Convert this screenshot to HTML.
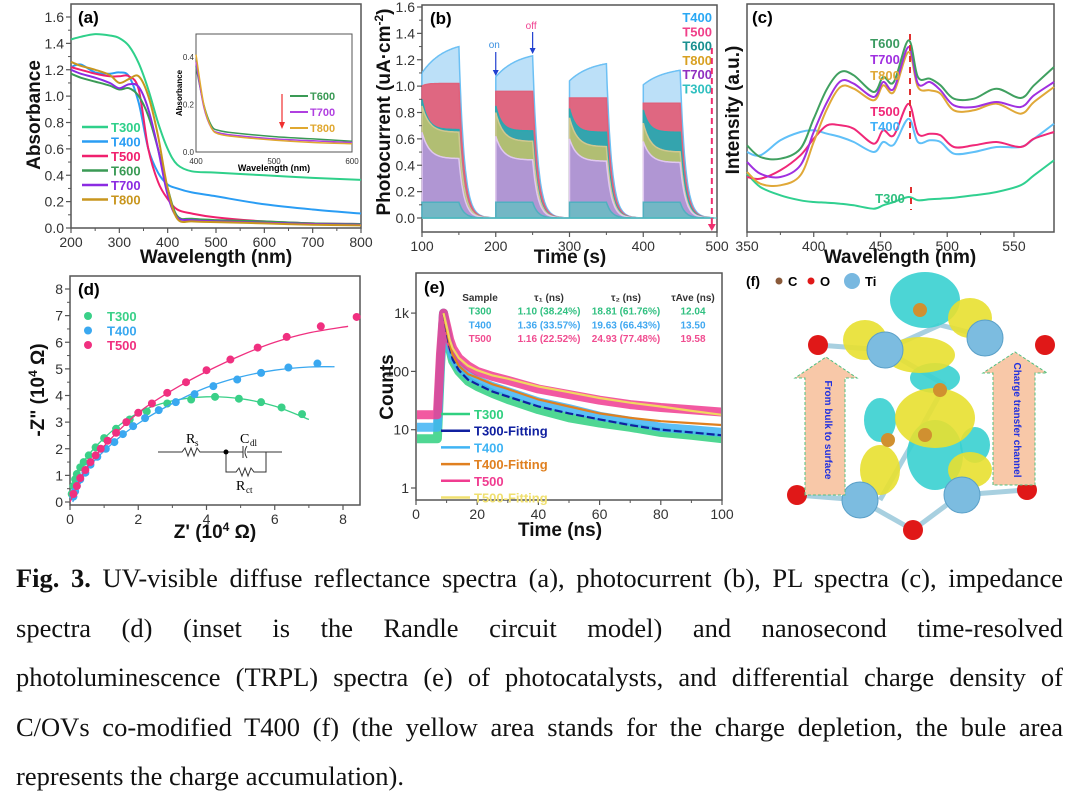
<!DOCTYPE html>
<html><head><meta charset="utf-8">
<style>
html,body{margin:0;padding:0;background:#fff;}
body{width:1080px;height:806px;overflow:hidden;position:relative;font-family:"Liberation Sans",Arial,sans-serif;}
#fig{position:absolute;left:0;top:0;}
#caption{position:absolute;left:16px;top:554px;width:1047px;font-family:"Liberation Serif","Times New Roman",serif;font-size:26.5px;line-height:49.5px;color:#111;}
#caption div{text-align:justify;text-align-last:justify;white-space:nowrap;height:49.5px;}
#caption div.last{text-align-last:left;}
</style></head>
<body>
<svg id="fig" width="1080" height="550" xmlns="http://www.w3.org/2000/svg" font-family="Liberation Sans, Arial, sans-serif"></svg>
<div id="caption">
<div><b>Fig. 3.</b> UV-visible diffuse reflectance spectra (a), photocurrent (b), PL spectra (c), impedance</div>
<div>spectra (d) (inset is the Randle circuit model) and nanosecond time-resolved</div>
<div>photoluminescence (TRPL) spectra (e) of photocatalysts, and differential charge density of</div>
<div>C/OVs co-modified T400 (f) (the yellow area stands for the charge depletion, the bule area</div>
<div class="last">represents the charge accumulation).</div>
</div>
<script>
// ---------- data (a)
const aWave=[200,220,250,280,300,320,340,360,380,400,420,450,500,600,700,800];
const aT300=[1.43,1.45,1.47,1.46,1.44,1.38,1.25,1.05,0.80,0.60,0.48,0.43,0.42,0.40,0.38,0.365];
const aT400=[1.22,1.24,1.18,1.17,1.18,1.15,0.95,0.60,0.42,0.33,0.30,0.27,0.24,0.18,0.14,0.11];
const aT500=[1.22,1.20,1.17,1.15,1.15,1.15,1.05,0.60,0.35,0.22,0.14,0.11,0.08,0.05,0.035,0.03];
const aT600=[1.17,1.14,1.11,1.08,1.05,1.06,1.00,0.85,0.60,0.30,0.09,0.07,0.06,0.05,0.035,0.03];
const aT700=[1.20,1.17,1.14,1.10,1.06,1.09,1.07,0.90,0.60,0.25,0.08,0.06,0.05,0.04,0.03,0.025];
const aT800=[1.26,1.23,1.20,1.16,1.10,1.13,1.15,1.00,0.70,0.30,0.07,0.05,0.045,0.035,0.025,0.02];
const aXTicks=[200,300,400,500,600,700,800];
const aYTicks=[0,0.2,0.4,0.6,0.8,1.0,1.2,1.4,1.6];
const insWave=[400,410,420,430,450,500,550,600];
const insT600=[0.36,0.20,0.11,0.09,0.08,0.065,0.055,0.045];
const insT700=[0.38,0.19,0.10,0.08,0.07,0.055,0.047,0.040];
const insT800=[0.41,0.20,0.10,0.075,0.065,0.05,0.04,0.035];
// ---------- data (b)
const bOn=[100,200,300,400];
const bOff=[150,250,350,450];
const bT400s=[1.10,1.07,1.04,1.01], bT400e=[1.30,1.23,1.17,1.12];
const bT500s=[1.00,0.96,0.91,0.87], bT500e=[1.02,0.96,0.91,0.87];
const bT600s=[0.90,0.85,0.83,0.82], bT600e=[0.67,0.66,0.65,0.65];
const bT800s=[0.85,0.80,0.76,0.72], bT800e=[0.65,0.58,0.54,0.50];
const bT700s=[0.65,0.62,0.60,0.58], bT700e=[0.45,0.44,0.43,0.42];
const bT300s=[0.12,0.12,0.12,0.12], bT300e=[0.12,0.12,0.12,0.12];
const bXTicks=[100,200,300,400,500];
const bYTicks=[0,0.2,0.4,0.6,0.8,1.0,1.2,1.4,1.6];
// ---------- data (c)
const cWave=[350,360,375,390,400,410,420,430,445,452,460,471,478,487,495,505,520,537,555,565,580];
const cT600=[260,225,220,250,340,430,480,470,420,465,450,575,465,460,440,400,400,430,402,440,495];
const cT700=[210,175,165,200,300,390,452,445,405,450,430,555,445,450,425,380,375,390,375,410,450];
const cT800=[180,145,140,170,270,370,435,430,395,440,420,540,435,425,415,365,365,385,355,390,435];
const cT500=[165,160,185,230,280,320,320,310,265,305,290,385,295,295,290,255,260,270,255,280,300];
const cT400=[240,230,275,300,305,295,285,270,240,270,262,340,270,275,270,235,240,255,255,280,325];
const cT300=[175,135,110,95,90,88,85,80,70,80,90,105,95,98,100,103,110,120,140,170,215];
const cXTicks=[350,400,450,500,550];
// ---------- data (d)
const dT300x=[0.05,0.1,0.15,0.2,0.3,0.4,0.55,0.75,1.0,1.35,1.75,2.25,2.85,3.55,4.25,4.95,5.6,6.2,6.8];
const dT300y=[0.3,0.6,0.85,1.05,1.3,1.5,1.75,2.05,2.4,2.75,3.1,3.4,3.7,3.85,3.95,3.88,3.75,3.55,3.3];
const dT400x=[0.1,0.15,0.2,0.3,0.45,0.6,0.8,1.05,1.3,1.55,1.85,2.2,2.6,3.1,3.65,4.2,4.9,5.6,6.4,7.25];
const dT400y=[0.2,0.4,0.6,0.85,1.1,1.4,1.7,2.0,2.25,2.55,2.85,3.15,3.45,3.75,4.05,4.35,4.6,4.85,5.05,5.2];
const dT500x=[0.1,0.2,0.3,0.45,0.6,0.75,0.9,1.1,1.35,1.65,2.0,2.4,2.85,3.4,4.0,4.7,5.5,6.35,7.35,8.4];
const dT500y=[0.3,0.6,0.9,1.2,1.5,1.75,2.0,2.3,2.6,3.0,3.35,3.7,4.1,4.5,4.95,5.35,5.8,6.2,6.6,6.95];
const dFit300x=[0,0.3,1,2,3,4,5,6,7], dFit300y=[0,1.3,2.4,3.35,3.8,3.95,3.88,3.6,3.1];
const dFit400x=[0.08,0.5,1.2,2,3,4,5,6,7,7.75], dFit400y=[0,1.2,2.15,2.95,3.7,4.3,4.7,4.95,5.07,5.08];
const dFit500x=[0,0.4,1,2,3,4,5,6,7,8.15], dFit500y=[0,1.1,2.1,3.35,4.2,4.9,5.5,6.0,6.35,6.6];
const dXTicks=[0,2,4,6,8];
const dYTicks=[0,1,2,3,4,5,6,7,8];
// ---------- data (e)
const eT=[0,7,8,9,10,11,12,14,17,20,25,30,40,50,60,70,80,90,100];
const eT500=[18,18,200,1000,600,350,250,170,125,100,82,70,50,40,32,27,24,22,20];
const eT400=[11,11,150,1000,500,280,180,120,85,70,55,45,30,23,17,14,11,10,9];
const eT300=[7,7,120,1000,450,240,150,100,68,55,42,33,22,16,13,11,9,8,7];
const eFitT=[9,10,11,12,14,17,20,25,30,40,50,60,70,80,90,100];
const eFit500=[1000,600,350,250,170,125,105,85,75,55,44,35,29,25,21,18];
const eFit400=[1000,520,290,190,125,90,78,60,50,33,25,19,16,14,13,12];
const eFit300=[1000,470,250,160,105,72,60,45,37,25,19,15,12,10,9,8];
const eXTicks=[0,20,40,60,80,100];
const eYTicks=[1,10,100,1000], eYLabels=['1','10','100','1k'];

const NS='http://www.w3.org/2000/svg';
const svg=document.getElementById('fig');
function mk(tag,attrs,parent,name,inter){const e=document.createElementNS(NS,tag);for(const k in attrs)e.setAttribute(k,attrs[k]);(parent||svg).appendChild(e);


return e;}
function txt(x,y,s,attrs,name,parent){const t=mk('text',Object.assign({x:x,y:y},attrs||{}),parent,name||'label');t.textContent=s;return t;}
function lin(d0,d1,r0,r1){return v=>r0+(v-d0)*(r1-r0)/(d1-d0);}
function pathFrom(xs,ys,X,Y,smooth){const P=xs.map((x,i)=>[X(x),Y(ys[i])]);if(!smooth)return 'M'+P.map(p=>p[0].toFixed(1)+','+p[1].toFixed(1)).join('L');
let d='M'+P[0][0]+','+P[0][1];for(let i=0;i<P.length-1;i++){const p0=P[i-1]||P[i],p1=P[i],p2=P[i+1],p3=P[i+2]||p2;
d+='C'+(p1[0]+(p2[0]-p0[0])/6).toFixed(1)+','+(p1[1]+(p2[1]-p0[1])/6).toFixed(1)+' '+(p2[0]-(p3[0]-p1[0])/6).toFixed(1)+','+(p2[1]-(p3[1]-p1[1])/6).toFixed(1)+' '+p2[0].toFixed(1)+','+p2[1].toFixed(1);}return d;}
function frame(x0,y0,x1,y1,name){mk('rect',{x:x0,y:y0,width:x1-x0,height:y1-y0,fill:'none',stroke:'#555','stroke-width':1.5},null,name);}
function xTicks(ticks,X,y,labels,name,minor){ticks.forEach((t,i)=>{mk('line',{x1:X(t),x2:X(t),y1:y,y2:y+5,stroke:'#555','stroke-width':1.2},null,'x-tick');txt(X(t),y+19,labels?labels[i]:String(t),{'font-size':14,'text-anchor':'middle',fill:'#333'},name);
if(minor&&i<ticks.length-1){const m=(t+ticks[i+1])/2;mk('line',{x1:X(m),x2:X(m),y1:y,y2:y+3,stroke:'#555'},null,'x-minor-tick');}});}
function yTicks(ticks,Y,x,labels,name,fmt){ticks.forEach((t,i)=>{mk('line',{x1:x-5,x2:x,y1:Y(t),y2:Y(t),stroke:'#555','stroke-width':1.2},null,'y-tick');txt(x-7,Y(t)+5,labels?labels[i]:(fmt?t.toFixed(fmt):String(t)),{'font-size':14,'text-anchor':'end',fill:'#333'},name);
if(i<ticks.length-1){const m=(t+ticks[i+1])/2;mk('line',{x1:x-3,x2:x,y1:Y(m),y2:Y(m),stroke:'#555'},null,'y-minor-tick');}});}
function title(x,y,s,rot,name){const a={'font-size':19,'font-weight':'bold','text-anchor':'middle',fill:'#111'};if(rot)a.transform='rotate(-90 '+x+' '+y+')';return txt(x,y,s,a,name);}
const defs=mk('defs',{},null,'defs');
function clip(id,x0,y0,x1,y1){const c=mk('clipPath',{id:id},defs,'clip');mk('rect',{x:x0,y:y0,width:x1-x0,height:y1-y0},c,'clip-rect');return mk('g',{'clip-path':'url(#'+id+')'},null,'plot-area');}

// ================= (a)
(function(){const X=lin(200,800,71,361),Y=lin(0,1.6,228,17);
frame(71,4,361,228,'panel-a-frame');
const S=[['T300',aT300,'#2fd08a'],['T400',aT400,'#2a9df4'],['T500',aT500,'#f0206e'],['T600',aT600,'#3a9a55'],['T700',aT700,'#8b2be2'],['T800',aT800,'#c8961e']];
S.forEach(s=>mk('path',{d:pathFrom(aWave,s[1],X,Y,true),fill:'none',stroke:s[2],'stroke-width':2},null,'line-'+s[0].toLowerCase()));
xTicks(aXTicks,X,228,null,'x-tick-label',true);yTicks(aYTicks,Y,71,null,'y-tick-label',1);
title(216,263,'Wavelength (nm)',false,'x-axis-title-a');title(40,115,'Absorbance',true,'y-axis-title-a');
txt(78,23,'(a)',{'font-size':17,'font-weight':'bold'},'panel-label-a');
S.forEach((s,i)=>{const y=127+i*14.5;mk('line',{x1:82,x2:108,y1:y,y2:y,stroke:s[2],'stroke-width':2.5},null,'legend-swatch');txt(111,y+5,s[0],{'font-size':13,'font-weight':'bold',fill:s[2]},'legend-entry');});
const IX=lin(400,600,196,352),IY=lin(0,0.4,152,57);
mk('rect',{x:196,y:34,width:156,height:118,fill:'#fff',stroke:'#555'},null,'inset-frame');
[['T600',insT600,'#3a9a55'],['T700',insT700,'#b040e0'],['T800',insT800,'#e0a830']].forEach((s,i)=>{mk('path',{d:pathFrom(insWave,s[1],IX,IY,true),fill:'none',stroke:s[2],'stroke-width':1.5},null,'inset-line-'+s[0].toLowerCase());
const y=96+i*16;mk('line',{x1:290,x2:308,y1:y,y2:y,stroke:s[2],'stroke-width':2},null,'inset-legend-swatch');txt(310,y+4,s[0],{'font-size':11,'font-weight':'bold',fill:s[2]},'inset-legend-entry');});
[400,500,600].forEach(t=>txt(IX(t),164,String(t),{'font-size':8,'text-anchor':'middle',fill:'#333'},'inset-x-tick-label'));
[0,0.2,0.4].forEach(t=>txt(194,IY(t)+3,t.toFixed(1),{'font-size':8,'text-anchor':'end',fill:'#333'},'inset-y-tick-label'));
txt(274,171,'Wavelength (nm)',{'font-size':9,'font-weight':'bold','text-anchor':'middle'},'inset-x-title');
txt(182,93,'Absorbance',{'font-size':8,'font-weight':'bold','text-anchor':'middle',transform:'rotate(-90 182 93)'},'inset-y-title');
mk('line',{x1:282,x2:282,y1:94,y2:124,stroke:'#f03030','stroke-width':1.2},null,'inset-arrow');
mk('path',{d:'M279,122L285,122L282,129Z',fill:'#f03030'},null,'inset-arrowhead');
})();

// ================= (b)
(function(){const X=lin(100,500,422,717),Y=lin(0,1.6,218,7);
frame(422,5,717,232,'panel-b-frame');
function area(st,en,k,rising){let pts=[[100,0]];for(let c=0;c<4;c++){const on=bOn[c],off=bOff[c];pts.push([on,0]);
for(let t=on;t<=off;t+=1){const dt=t-on;let v;if(rising){v=st[c]+(en[c]-st[c])*(1-Math.exp(-dt/k))/(1-Math.exp(-50/k));}else v=en[c]+(st[c]-en[c])*Math.exp(-dt/k);pts.push([t,v]);}
const next=c<3?bOn[c+1]:495;for(let t=off;t<=next;t+=1){pts.push([t,en[c]*Math.exp(-(t-off)/7)]);}pts.push([next,0]);}
return 'M'+pts.map(p=>X(p[0]).toFixed(1)+','+Y(p[1]).toFixed(1)).join('L')+'Z';}
const S=[['T400',bT400s,bT400e,30,true,'#b8def8','#6cc0f4'],['T500',bT500s,bT500e,6,false,'#e0607a','#e0607a'],['T600',bT600s,bT600e,8,false,'#2aa8b0','#2aa8b0'],['T800',bT800s,bT800e,10,false,'#b8c070','#d0c890'],['T700',bT700s,bT700e,10,false,'#b094d8','#e0c8f0'],['T300',bT300s,bT300e,5,false,'#70b8c4','#50b0c0']];
S.forEach(s=>mk('path',{d:area(s[1],s[2],s[3],s[4]),fill:s[5],stroke:s[6],'stroke-width':1.5,'fill-opacity':0.95},null,'area-'+s[0].toLowerCase()));
mk('line',{x1:422,x2:717,y1:Y(0),y2:Y(0),stroke:'#40c0c0','stroke-width':1},null,'baseline');
xTicks(bXTicks,X,232,null,'x-tick-label',true);yTicks(bYTicks,Y,422,null,'y-tick-label',1);
title(570,263,'Time (s)',false,'x-axis-title-b');
const yt=title(390,112,'Photocurrent (uA·cm',true,'y-axis-title-b');const ts=document.createElementNS(NS,'tspan');ts.setAttribute('baseline-shift','super');ts.setAttribute('font-size','12');ts.textContent='-2';yt.appendChild(ts);const ts2=document.createElementNS(NS,'tspan');ts2.textContent=')';yt.appendChild(ts2);
txt(430,24,'(b)',{'font-size':17,'font-weight':'bold'},'panel-label-b');
const L=[['T400','#2aa8f4'],['T500','#f0408a'],['T600','#1a9090'],['T800','#d8a020'],['T700','#9030c0'],['T300','#30c0c0']];
L.forEach((l,i)=>txt(712,22+i*14.3,l[0],{'font-size':13,'font-weight':'bold','text-anchor':'end',fill:l[1]},'legend-entry'));
txt(X(198),48,'on',{'font-size':10,fill:'#3a90e0','text-anchor':'middle'},'on-label');
mk('line',{x1:X(200),x2:X(200),y1:52,y2:72,stroke:'#2040d0','stroke-width':1.2},null,'on-arrow');mk('path',{d:`M${X(200)-3},70L${X(200)+3},70L${X(200)},76Z`,fill:'#2040d0'},null,'on-arrowhead');
txt(X(248),29,'off',{'font-size':10,fill:'#f04090','text-anchor':'middle'},'off-label');
mk('line',{x1:X(250),x2:X(250),y1:32,y2:50,stroke:'#2040d0','stroke-width':1.2},null,'off-arrow');mk('path',{d:`M${X(250)-3},48L${X(250)+3},48L${X(250)},54Z`,fill:'#2040d0'},null,'off-arrowhead');
mk('line',{x1:X(493),x2:X(493),y1:48,y2:226,stroke:'#f03070','stroke-width':2,'stroke-dasharray':'6,4'},null,'trend-arrow');
mk('path',{d:`M${X(493)-4},224L${X(493)+4},224L${X(493)},231Z`,fill:'#f03070'},null,'trend-arrowhead');
})();

// ================= (c)
(function(){const X=lin(350,580,747,1054),Y=lin(0,690,232,2);
frame(747,4,1054,232,'panel-c-frame');
const S=[['T300',cT300,'#30d090'],['T400',cT400,'#60c0f8'],['T500',cT500,'#f02878'],['T800',cT800,'#e0a838'],['T700',cT700,'#a030e0'],['T600',cT600,'#40a060']];
S.forEach(s=>mk('path',{d:pathFrom(cWave,s[1],X,Y,true),fill:'none',stroke:s[2],'stroke-width':2},null,'line-'+s[0].toLowerCase()));
xTicks(cXTicks,X,232,null,'x-tick-label',true);
title(900,263,'Wavelength (nm)',false,'x-axis-title-c');title(739,110,'Intensity (a.u.)',true,'y-axis-title-c');
txt(752,23,'(c)',{'font-size':17,'font-weight':'bold'},'panel-label-c');
[['T600',48,'#3a9a60'],['T700',64,'#a030e0'],['T800',80,'#e0a838'],['T500',116,'#f02878'],['T400',131,'#40b0f8'],['T300',203,'#30c080']].forEach(l=>txt(l[0]=='T300'?890:885,l[1],l[0],{'font-size':13,'font-weight':'bold','text-anchor':'middle',fill:l[2]},'series-label'));
mk('line',{x1:910,x2:910,y1:34,y2:140,stroke:'#e03030','stroke-width':2,'stroke-dasharray':'6,5'},null,'trend-arrow-c');
mk('line',{x1:911,x2:911,y1:187,y2:210,stroke:'#e03030','stroke-width':2,'stroke-dasharray':'6,5'},null,'trend-arrow-c2');
})();

// ================= (d)
(function(){const X=lin(0,8,70,343),Y=lin(0,8,502,289);
frame(70,276,360,505,'panel-d-frame');
const S=[['t300',dT300x,dT300y,dFit300x,dFit300y,'#3ad088'],['t400',dT400x,dT400y,dFit400x,dFit400y,'#3aa8f0'],['t500',dT500x,dT500y,dFit500x,dFit500y,'#f03080']];
S.forEach(s=>{mk('path',{d:pathFrom(s[3],s[4],X,Y,true),fill:'none',stroke:s[5],'stroke-width':1.3},null,'fit-line-'+s[0]);
s[1].forEach((x,i)=>mk('circle',{cx:X(x),cy:Y(s[2][i]),r:4,fill:s[5]},null,'point-'+s[0]));});
xTicks(dXTicks,X,505,null,'x-tick-label',true);yTicks(dYTicks,Y,70,null,'y-tick-label');
const xt=title(215,538,"Z' (10",false,'x-axis-title-d');let sp=document.createElementNS(NS,'tspan');sp.setAttribute('baseline-shift','super');sp.setAttribute('font-size','12');sp.textContent='4';xt.appendChild(sp);sp=document.createElementNS(NS,'tspan');sp.textContent=' Ω)';xt.appendChild(sp);
const yt=title(44,390,'-Z" (10',true,'y-axis-title-d');sp=document.createElementNS(NS,'tspan');sp.setAttribute('baseline-shift','super');sp.setAttribute('font-size','12');sp.textContent='4';yt.appendChild(sp);sp=document.createElementNS(NS,'tspan');sp.textContent=' Ω)';yt.appendChild(sp);
txt(78,295,'(d)',{'font-size':17,'font-weight':'bold'},'panel-label-d');
[['T300','#3ad088'],['T400','#3aa8f0'],['T500','#f03080']].forEach((l,i)=>{mk('circle',{cx:88,cy:316+i*14.5,r:4,fill:l[1]},null,'legend-marker');txt(107,321+i*14.5,l[0],{'font-size':13,'font-weight':'bold',fill:l[1]},'legend-entry');});
const g=mk('g',{stroke:'#333','stroke-width':1,fill:'none'},null,'circuit-inset');
mk('path',{d:'M158,452L182,452L185,448L188,456L191,448L194,456L197,448L200,452L226,452M226,452L243,452M243,446L243,458M247,446Q243,452 247,458M247,452L282,452M226,452L226,472L236,472L239,468L242,476L245,468L248,476L251,468L254,472L266,472L266,452'},g,'circuit-wires');
mk('circle',{cx:226,cy:452,r:2.5,fill:'#000'},null,'circuit-node');
txt(186,443,'R',{'font-family':'Liberation Serif, serif','font-size':14},'rs-label');txt(195,446,'s',{'font-family':'Liberation Serif, serif','font-size':9},'rs-sub');
txt(240,443,'C',{'font-family':'Liberation Serif, serif','font-size':14},'cdl-label');txt(250,446,'dl',{'font-family':'Liberation Serif, serif','font-size':9},'cdl-sub');
txt(236,490,'R',{'font-family':'Liberation Serif, serif','font-size':14},'rct-label');txt(246,493,'ct',{'font-family':'Liberation Serif, serif','font-size':9},'rct-sub');
})();

// ================= (e)
(function(){const X=lin(0,100,416,722),Y=v=>488-Math.log10(v)*58.3;
const g=clip('clipE',417,274,721,499);
const S=[['t300',eT300,'#30d080'],['t400',eT400,'#40b4f4'],['t500',eT500,'#f03c90']];
S.forEach(s=>mk('path',{d:pathFrom(eT,s[1],X,Y,false),fill:'none',stroke:s[2],'stroke-width':9,'stroke-linejoin':'round','stroke-opacity':0.85},g,'decay-'+s[0]));
mk('path',{d:pathFrom(eFitT,eFit300,X,Y,false),fill:'none',stroke:'#1020a0','stroke-width':2.2,'stroke-dasharray':'8,3'},g,'fit-t300');
mk('path',{d:pathFrom(eFitT,eFit400,X,Y,false),fill:'none',stroke:'#e08020','stroke-width':2.2},g,'fit-t400');
mk('path',{d:pathFrom(eFitT,eFit500,X,Y,false),fill:'none',stroke:'#f0d860','stroke-width':2.2},g,'fit-t500');
frame(416,273,722,500,'panel-e-frame');
xTicks(eXTicks,X,500,null,'x-tick-label',true);
eYTicks.forEach((t,i)=>{mk('line',{x1:411,x2:416,y1:Y(t),y2:Y(t),stroke:'#555','stroke-width':1.2},null,'y-tick');txt(409,Y(t)+5,eYLabels[i],{'font-size':14,'text-anchor':'end',fill:'#333'},'y-tick-label');});
title(560,536,'Time (ns)',false,'x-axis-title-e');title(393,387,'Counts',true,'y-axis-title-e');
txt(424,293,'(e)',{'font-size':17,'font-weight':'bold'},'panel-label-e');
const L=[['T300','#30d080'],['T300-Fitting','#1020a0'],['T400','#40b4f4'],['T400-Fitting','#e08020'],['T500','#f03c90'],['T500-Fitting','#f0e070']];
L.forEach((l,i)=>{const y=414+i*16.7;mk('line',{x1:441,x2:470,y1:y,y2:y,stroke:l[1],'stroke-width':2.5},null,'legend-swatch');txt(474,y+5,l[0],{'font-size':13,'font-weight':'bold',fill:l[1]},'legend-entry');});
const tbl=[['Sample','τ₁ (ns)','τ₂ (ns)','τAve (ns)','#333'],['T300','1.10 (38.24%)','18.81 (61.76%)','12.04','#30c080'],['T400','1.36 (33.57%)','19.63 (66.43%)','13.50','#40a8f0'],['T500','1.16 (22.52%)','24.93 (77.48%)','19.58','#f04c90']];
tbl.forEach((r,i)=>{const y=301+i*13.7;[[480,r[0]],[549,r[1]],[626,r[2]],[693,r[3]]].forEach((c,j)=>txt(c[0],y,c[1],{'font-size':10,'font-weight':'bold','text-anchor':'middle',fill:r[4]},'table-cell'));});
})();

// ================= (f)
(function(){
txt(746,286,'(f)',{'font-size':14,'font-weight':'bold'},'panel-label-f');
mk('circle',{cx:779,cy:281,r:3.5,fill:'#8a5a3a'},null,'legend-c-atom');txt(788,286,'C',{'font-size':13,'font-weight':'bold'},'legend-c');
mk('circle',{cx:811,cy:281,r:3.5,fill:'#e01818'},null,'legend-o-atom');txt(820,286,'O',{'font-size':13,'font-weight':'bold'},'legend-o');
mk('circle',{cx:852,cy:281,r:8,fill:'#78b8e0'},null,'legend-ti-atom');txt(865,286,'Ti',{'font-size':13,'font-weight':'bold'},'legend-ti');
const bonds=[[818,345,885,350],[885,350,940,325],[940,325,1000,340],[885,350,945,385],[945,385,920,430],[920,430,880,500],[797,495,860,500],[860,500,913,530],[913,530,960,495],[960,495,1025,490]];
bonds.forEach(b=>mk('line',{x1:b[0],y1:b[1],x2:b[2],y2:b[3],stroke:'#a8d0e0','stroke-width':5},null,'bond'));
const blobs=[['#38d0d0',925,300,35,28],['#38d0d0',935,378,25,15],['#38d0d0',935,455,28,35],['#38d0d0',880,420,16,22],['#38d0d0',975,445,15,18],['#e8e030',920,355,35,18],['#e8e030',935,418,40,30],['#e8e030',880,470,20,25],['#e8e030',970,318,22,20],['#e8e030',865,340,22,20],['#e8e030',970,470,22,18]];
blobs.forEach(b=>mk('ellipse',{cx:b[1],cy:b[2],rx:b[3],ry:b[4],fill:b[0],'fill-opacity':0.9},null,b[0]=='#38d0d0'?'accumulation-area':'depletion-area'));
[[885,350],[985,338],[860,500],[962,495]].forEach(a=>mk('circle',{cx:a[0],cy:a[1],r:18,fill:'#7cbce0',stroke:'#5aa0c8'},null,'ti-atom'));
[[818,345],[1045,345],[797,495],[1027,490],[913,530]].forEach(a=>mk('circle',{cx:a[0],cy:a[1],r:10,fill:'#e01818'},null,'o-atom'));
[[920,310],[940,390],[925,435],[888,440]].forEach(a=>mk('circle',{cx:a[0],cy:a[1],r:7,fill:'#d09030'},null,'c-atom'));
mk('path',{d:'M805,495L805,378L795,378L826,357L857,378L845,378L845,495Z',fill:'#f8c8a8',stroke:'#50c080','stroke-dasharray':'3,2'},null,'arrow-bulk-surface');
txt(825,430,'From bulk to surface',{'font-size':10,'font-weight':'bold',fill:'#2030e0','text-anchor':'middle',transform:'rotate(90 825 430)'},'arrow-text-left');
mk('path',{d:'M993,485L993,373L983,373L1015,352L1047,373L1035,373L1035,485Z',fill:'#f8c8a8',stroke:'#50c080','stroke-dasharray':'3,2'},null,'arrow-charge-transfer');
txt(1014,420,'Charge transfer channel',{'font-size':10,'font-weight':'bold',fill:'#2030e0','text-anchor':'middle',transform:'rotate(90 1014 420)'},'arrow-text-right');
})();
</script>
</body></html>
